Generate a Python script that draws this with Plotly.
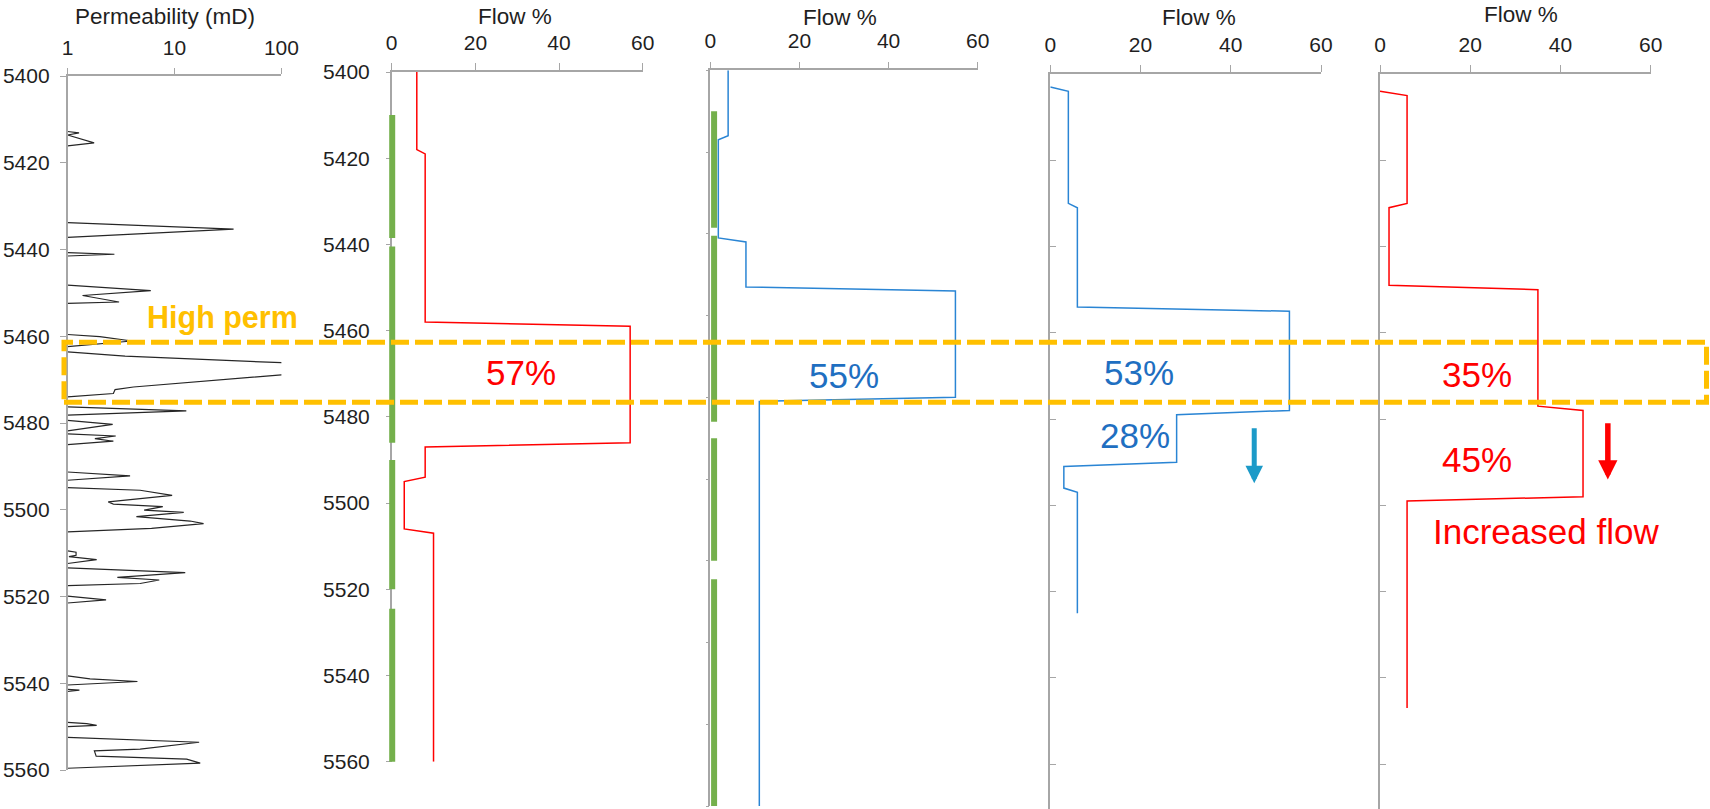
import plotly.graph_objects as go

FIG_W, FIG_H = 1710, 809
FONT = "Liberation Sans, Arial, sans-serif"

# ---- permeability log: depth (ft) and permeability (mD); None splits the spikes ----
PERM_DEPTH = [
    5412.8, 5413.1, 5413.6, 5415.4, 5416.1, None,
    5433.8, 5435.3, 5437.2, None,
    5440.7, 5441.1, 5441.5, None,
    5448.2, 5449.5, 5450.6, 5452.1, 5452.4, None,
    5459.6, 5460.1, 5461.1, 5462.4, None,
    5463.6, 5464.6, 5466.1, 5467.5, 5468.9, 5471.7, 5472.3, 5473.2, 5474.0, None,
    5476.3, 5477.2, 5478.2, None,
    5479.4, 5480.3, 5481.8, None,
    5482.5, 5483.0, 5483.6, 5484.2, 5485.0, None,
    5491.3, 5492.2, 5493.2, None,
    5494.9, 5495.5, 5496.7, 5498.2, 5498.7, 5499.3, 5500.1, 5500.6, 5501.6, 5502.6, 5503.2, 5504.3, 5505.1, None,
    5509.5, 5509.8, 5510.5, 5510.8, 5511.5, 5512.4, None,
    5513.4, 5514.5, 5515.6, 5516.2, 5517.0, 5517.5, None,
    5519.9, 5520.8, 5521.5, None,
    5538.3, 5539.0, 5539.6, 5540.4, None,
    5541.4, 5541.6, 5541.9, None,
    5549.0, 5549.3, 5549.7, 5550.0, None,
    5552.5, 5553.6, 5555.2, 5555.6, 5556.8, 5557.5, 5558.4, 5559.6,
]
PERM_MD = [
    1, 1.28, 1, 1.77, 1, None,
    1, 35.7, 1, None,
    1, 2.74, 1, None,
    1, 6.0, 1.38, 3.03, 1, None,
    1, 2.0, 4.0, 1, None,
    1, 3.45, 100, 400, 100, 4.13, 2.78, 2.68, 1, None,
    1, 12.9, 1, None,
    1, 2.64, 1, None,
    1, 2.82, 1.80, 2.68, 1, None,
    1, 3.84, 1, None,
    1, 4.77, 9.5, 2.40, 2.68, 7.77, 5.2, 12.2, 4.4, 14.0, 18.7, 6.1, 1, None,
    1, 1.2, 1.2, 1.03, 1.87, 1, None,
    1, 12.6, 2.92, 7.2, 4.77, 1, None,
    1, 2.29, 1, None,
    1, 1.62, 4.5, 1, None,
    1, 1.29, 1, None,
    1, 1.51, 1.87, 1, None,
    1, 17.0, 4.77, 1.78, 1.85, 13.0, 17.4, 1,
]

# ---- flow profiles (% of total flow vs depth) ----
FLOW1_DEPTH = [5400, 5418, 5419, 5458, 5459, 5486, 5487, 5494, 5495, 5506, 5507, 5560]
FLOW1_PCT = [6, 6, 8, 8, 57, 57, 8, 8, 3, 3, 10, 10]

FLOW2_DEPTH = [5400, 5416, 5417, 5441, 5442, 5453, 5454, 5480, 5481, 5580]
FLOW2_PCT = [4, 4, 1.8, 1.8, 8, 8, 55, 55, 11, 11]

FLOW3_DEPTH = [5403, 5404, 5430, 5431, 5454, 5455, 5478, 5479, 5490, 5491, 5496, 5497, 5525]
FLOW3_PCT = [0, 4, 4, 6, 6, 53, 53, 28, 28, 3, 3, 6, 6]

FLOW4_DEPTH = [5404, 5405, 5430, 5431, 5449, 5450, 5477, 5478, 5498, 5499, 5547]
FLOW4_PCT = [0, 6, 6, 2, 2, 35, 35, 45, 45, 6, 6]

# ---- perforated intervals (top, base in ft) ----
PERF_TOP = [5410, 5440.5, 5490, 5524.5]
PERF_BASE = [5438.5, 5486, 5520, 5580]

# ---- tick labels ----
DEPTH_TICKS = [5400, 5420, 5440, 5460, 5480, 5500, 5520, 5540, 5560, 5580]
FLOW_TICKS = [0, 20, 40, 60]
PERM_TICKS = [1, 10, 100]

RED = "#FF0000"
BLUE_LINE = "#2A85D4"
BLUE_TEXT = "#1F6FC1"
ARROW_BLUE = "#1C9AC8"
GREEN = "#74B04C"
GOLD = "#FFC000"
AXIS_GREY = "#A6A6A6"
TEXT_DARK = "#1F1F1F"


def hx(px):
    return px / FIG_W


def vy(py):
    return 1 - py / FIG_H


# panel frames in pixels: left, right, top (depth 5400), bottom, depth at bottom
FRAMES = {
    1: (67.6, 281.4, 76.0, 770.0, 5560),
    2: (391.7, 642.7, 72.0, 761.7, 5560),
    3: (710.3, 977.7, 70.3, 806.0, 5580),
    4: (1050.3, 1321.0, 74.0, 809.0, 5570.4),
    5: (1380.0, 1650.7, 74.0, 809.0, 5570.4),
}


def xdom(i):
    l, r, *_ = FRAMES[i]
    return [hx(l), hx(r)]


def ydom(i):
    _, _, t, b, _ = FRAMES[i]
    return [vy(b), vy(t)]


fig = go.Figure()

# permeability curve
fig.add_trace(go.Scatter(x=PERM_MD, y=PERM_DEPTH, mode="lines", xaxis="x", yaxis="y",
                         line=dict(color="#262626", width=1.2), connectgaps=False,
                         hoverinfo="skip", showlegend=False))

# flow curves
for k, (xs, ys, col) in enumerate([(FLOW1_PCT, FLOW1_DEPTH, RED),
                                   (FLOW2_PCT, FLOW2_DEPTH, BLUE_LINE),
                                   (FLOW3_PCT, FLOW3_DEPTH, BLUE_LINE),
                                   (FLOW4_PCT, FLOW4_DEPTH, RED)], start=2):
    fig.add_trace(go.Scatter(x=xs, y=ys, mode="lines", xaxis=f"x{k}", yaxis=f"y{k}",
                             line=dict(color=col, width=1.5), hoverinfo="skip",
                             showlegend=False))

# perforation tracks drawn on helper x-axes that reach a few px left of the depth axis
perf_y = []
for t, b in zip(PERF_TOP, PERF_BASE):
    perf_y += [t, b, None]
for hidden, panel, xpos in [("x6", 2, 0.12), ("x7", 3, 0.85)]:
    fig.add_trace(go.Scatter(x=[xpos if v is not None else None for v in perf_y], y=perf_y,
                             mode="lines", xaxis=hidden, yaxis=f"y{panel}",
                             line=dict(color=GREEN, width=6), connectgaps=False,
                             hoverinfo="skip", showlegend=False))

base_axis = dict(showline=True, linecolor=AXIS_GREY, linewidth=1.5, showgrid=False,
                 zeroline=False, tickcolor=AXIS_GREY, tickwidth=1.2, automargin=False,
                 tickfont=dict(family=FONT, size=21, color=TEXT_DARK))

layout = dict(width=FIG_W, height=FIG_H, margin=dict(l=0, r=0, t=0, b=0, pad=0),
              autosize=False, paper_bgcolor="white", plot_bgcolor="rgba(0,0,0,0)",
              showlegend=False, font=dict(family=FONT))

# panel 1: log permeability
layout["xaxis"] = dict(base_axis, type="log", range=[0, 2], domain=xdom(1), anchor="y",
                       side="top", ticks="outside", ticklen=6, tickvals=PERM_TICKS,
                       ticktext=[str(v) for v in PERM_TICKS], ticklabelstandoff=5)
layout["yaxis"] = dict(base_axis, range=[FRAMES[1][4], 5400], domain=ydom(1), anchor="x",
                       ticks="outside", ticklen=6, tickvals=DEPTH_TICKS[:9],
                       ticklabelstandoff=6)

# panels 2-5: flow %
for k in range(2, 6):
    layout[f"xaxis{k}"] = dict(base_axis, range=[0, 60], domain=xdom(k), anchor=f"y{k}",
                               side="top", ticks="outside", ticklen=7, tickvals=FLOW_TICKS,
                               ticklabelstandoff=5)
    ya = dict(base_axis, range=[FRAMES[k][4], 5400], domain=ydom(k), anchor=f"x{k}",
              tickvals=DEPTH_TICKS)
    if k == 2:
        ya.update(ticks="outside", ticklen=4, ticklabelstandoff=12, layer="below traces")
    elif k == 3:
        ya.update(ticks="outside", ticklen=3, showticklabels=False, layer="below traces")
    else:
        ya.update(ticks="inside", ticklen=6, showticklabels=False)
    layout[f"yaxis{k}"] = ya

# helper axes for the perforation tracks
PAD = 6
for hidden, panel in [("xaxis6", 2), ("xaxis7", 3)]:
    d0, d1 = xdom(panel)
    per_unit = (d1 - d0) * FIG_W / 60
    layout[hidden] = dict(domain=[d0 - PAD / FIG_W, d1], range=[-PAD / per_unit, 60],
                          anchor=f"y{panel}", visible=False, showgrid=False, zeroline=False,
                          automargin=False)

fig.update_layout(**layout)

ann = []
# column titles
for txt, cx, cy in [("Permeability (mD)", 165, 16.5), ("Flow %", 515, 16.5),
                    ("Flow %", 840, 18), ("Flow %", 1199, 18), ("Flow %", 1521, 14)]:
    ann.append(dict(text=txt, x=hx(cx), y=vy(cy), xref="paper", yref="paper",
                    showarrow=False, xanchor="center", yanchor="middle",
                    font=dict(family=FONT, size=22.5, color=TEXT_DARK)))

# flow value labels
big = dict(family=FONT, size=35)
ann += [
    dict(text=f"{FLOW1_PCT[4]}%", x=30.8, y=5469.6, xref="x2", yref="y2",
         font=dict(big, color=RED)),
    dict(text=f"{FLOW2_PCT[6]}%", x=30.0, y=5474.6, xref="x3", yref="y3",
         font=dict(big, color=BLUE_TEXT)),
    dict(text=f"{FLOW3_PCT[5]}%", x=19.6, y=5469.2, xref="x4", yref="y4",
         font=dict(big, color=BLUE_TEXT)),
    dict(text=f"{FLOW3_PCT[7]}%", x=18.8, y=5483.9, xref="x4", yref="y4",
         font=dict(big, color=BLUE_TEXT)),
    dict(text=f"{FLOW4_PCT[5]}%", x=21.5, y=5469.7, xref="x5", yref="y5",
         font=dict(big, color=RED)),
    dict(text=f"{FLOW4_PCT[7]}%", x=21.6, y=5489.3, xref="x5", yref="y5",
         font=dict(big, color=RED)),
    dict(text="Increased flow", x=36.9, y=5506.0, xref="x5", yref="y5",
         font=dict(big, color=RED)),
]
for a in ann[5:]:
    a.update(showarrow=False, xanchor="center", yanchor="middle")

# downward arrows
ann += [
    dict(text="", x=45.2, y=5494.9, ax=45.2, ay=5481.8, xref="x4", yref="y4",
         axref="x4", ayref="y4", showarrow=True, arrowhead=2, arrowsize=0.7,
         arrowwidth=5, arrowcolor=ARROW_BLUE, standoff=0, startstandoff=0),
    dict(text="", x=50.5, y=5494.0, ax=50.5, ay=5480.6, xref="x5", yref="y5",
         axref="x5", ayref="y5", showarrow=True, arrowhead=2, arrowsize=0.7,
         arrowwidth=5.5, arrowcolor=RED, standoff=0, startstandoff=0),
]

# high-permeability interval label
ann.append(dict(text="<b>High perm</b>", x=hx(222.5), y=vy(317), xref="paper", yref="paper",
                showarrow=False, xanchor="center", yanchor="middle",
                font=dict(family=FONT, size=30.5, color=GOLD)))

fig.update_layout(annotations=ann)

# dashed box around the high-permeability interval
fig.add_shape(type="rect", xref="paper", yref="paper", x0=hx(64), x1=hx(1706.5),
              y0=vy(402.3), y1=vy(342.3), line=dict(color=GOLD, width=5, dash="18px,6px"),
              fillcolor="rgba(0,0,0,0)", layer="above")

# page without body margin so the figure fills the window exactly
fig.write_html("out.html",
               post_script="document.body.style.margin='0';"
                           "document.body.style.overflow='hidden';")
